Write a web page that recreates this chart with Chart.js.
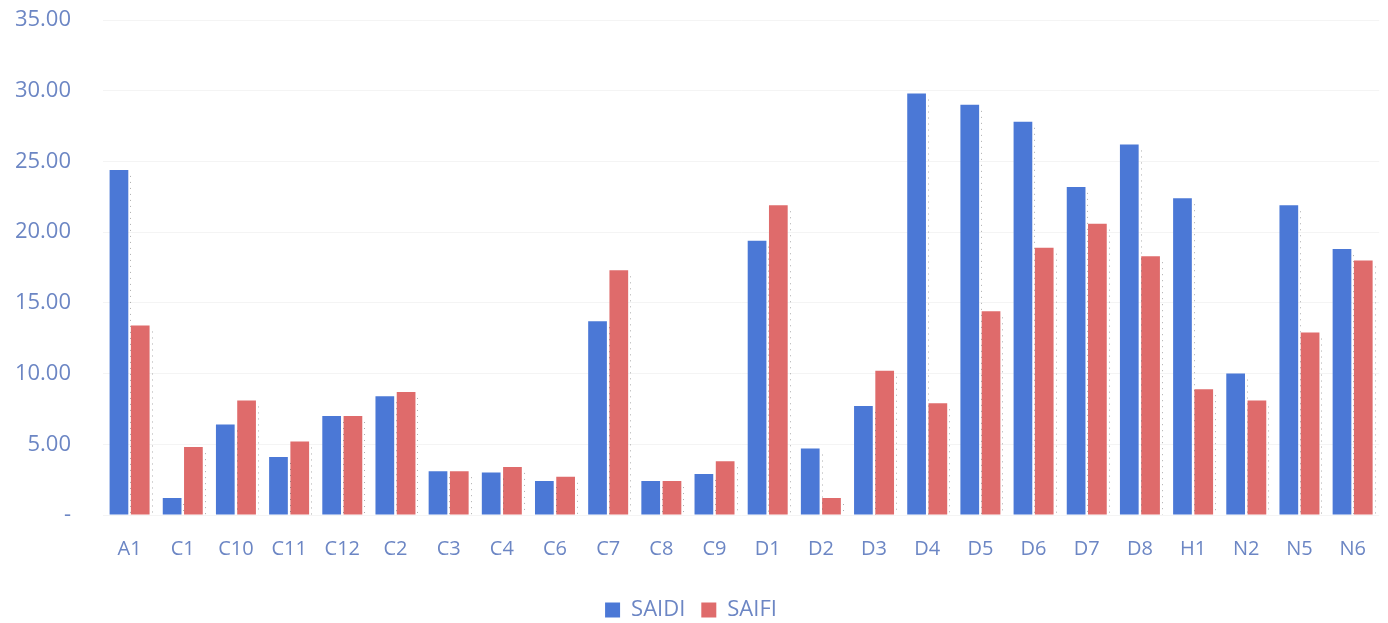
<!DOCTYPE html>
<html lang="en">
<head>
  <meta charset="UTF-8" />
  <title>SAIDI / SAIFI</title>
  <style>
    html, body {
      margin: 0;
      background-color: #ffffff;
    }

    .frame {
      width: 1388px;
      height: 623px;
    }
  </style>
</head>
<body>
  <div class="frame">
    <canvas id="reliabilityChart" width="1388" height="623"></canvas>
  </div>

  <script src="https://cdn.jsdelivr.net/npm/chart.js"></script>
  <script>
    const feeders = ["A1", "C1", "C10", "C11", "C12", "C2", "C3", "C4", "C6", "C7", "C8", "C9",
      "D1", "D2", "D3", "D4", "D5", "D6", "D7", "D8", "H1", "N2", "N5", "N6"];

    const saidi = [24.4, 1.2, 6.4, 4.1, 7.0, 8.4, 3.1, 3.0, 2.4, 13.7, 2.4, 2.9,
      19.4, 4.7, 7.7, 29.8, 29.0, 27.8, 23.2, 26.2, 22.4, 10.0, 21.9, 18.8];

    const saifi = [13.4, 4.8, 8.1, 5.2, 7.0, 8.7, 3.1, 3.4, 2.7, 17.3, 2.4, 3.8,
      21.9, 1.2, 10.2, 7.9, 14.4, 18.9, 20.6, 18.3, 8.9, 8.1, 12.9, 18.0];

    const yTicks = [0, 5, 10, 15, 20, 25, 30, 35];

    const textColor = "#6c86c4";
    const fontFamily = "'Open Sans', 'Liberation Sans', sans-serif";

    // faint dotted edge to the right of each bar, like the scanned original
    const dottedEdges = {
      id: "dottedEdges",
      afterDatasetsDraw(chart) {
        const c = chart.ctx;
        c.save();
        c.strokeStyle = "rgba(70, 70, 70, 0.45)";
        c.lineWidth = 1;
        c.setLineDash([1, 5]);
        chart.data.datasets.forEach((ds, i) => {
          chart.getDatasetMeta(i).data.forEach(bar => {
            const x = Math.round(bar.x + bar.width / 2) + 2.5;
            c.beginPath();
            c.moveTo(x, bar.y + 6);
            c.lineTo(x, bar.base);
            c.stroke();
          });
        });
        c.restore();
      }
    };

    // push the legend a little closer to the bottom edge
    const legendNudge = {
      id: "legendNudge",
      afterLayout(chart) {
        chart.legend.top += 8;
        chart.legend.bottom += 8;
      }
    };

    const ctx = document.getElementById("reliabilityChart").getContext("2d");

    new Chart(ctx, {
      type: "bar",
      data: {
        labels: feeders,
        datasets: [
          {
            label: "SAIDI",
            data: saidi,
            backgroundColor: "#4b78d6",
            categoryPercentage: 0.8,
            barPercentage: 0.88
          },
          {
            label: "SAIFI",
            data: saifi,
            backgroundColor: "#df6b6b",
            categoryPercentage: 0.8,
            barPercentage: 0.88
          }
        ]
      },
      options: {
        responsive: false,
        animation: false,
        layout: {
          padding: { top: 20, right: 6, bottom: 0, left: 0 }
        },
        plugins: {
          legend: {
            position: "bottom",
            labels: {
              color: textColor,
              boxWidth: 15,
              boxHeight: 15,
              padding: 16,
              font: { family: fontFamily, size: 22 }
            }
          },
          tooltip: { enabled: false }
        },
        scales: {
          x: {
            afterFit: (scale) => { scale.height = 60; },
            grid: { display: false, drawTicks: false },
            border: { display: false },
            ticks: {
              color: textColor,
              padding: 22,
              font: { family: fontFamily, size: 20 }
            }
          },
          y: {
            min: 0,
            max: 35,
            afterFit: (scale) => {
              scale.width = 103;
              scale.paddingTop = 0;
              scale.paddingBottom = 0;
            },
            afterBuildTicks: (scale) => {
              scale.ticks = yTicks.map(v => ({ value: v }));
            },
            grid: {
              color: "rgba(0, 0, 0, 0.045)",
              drawTicks: false
            },
            border: { display: false },
            ticks: {
              color: textColor,
              padding: 32,
              font: { family: fontFamily, size: 22 },
              callback: (val) => val === 0 ? "-" : val.toFixed(2)
            }
          }
        }
      },
      plugins: [dottedEdges, legendNudge]
    });
  </script>
</body>
</html>
